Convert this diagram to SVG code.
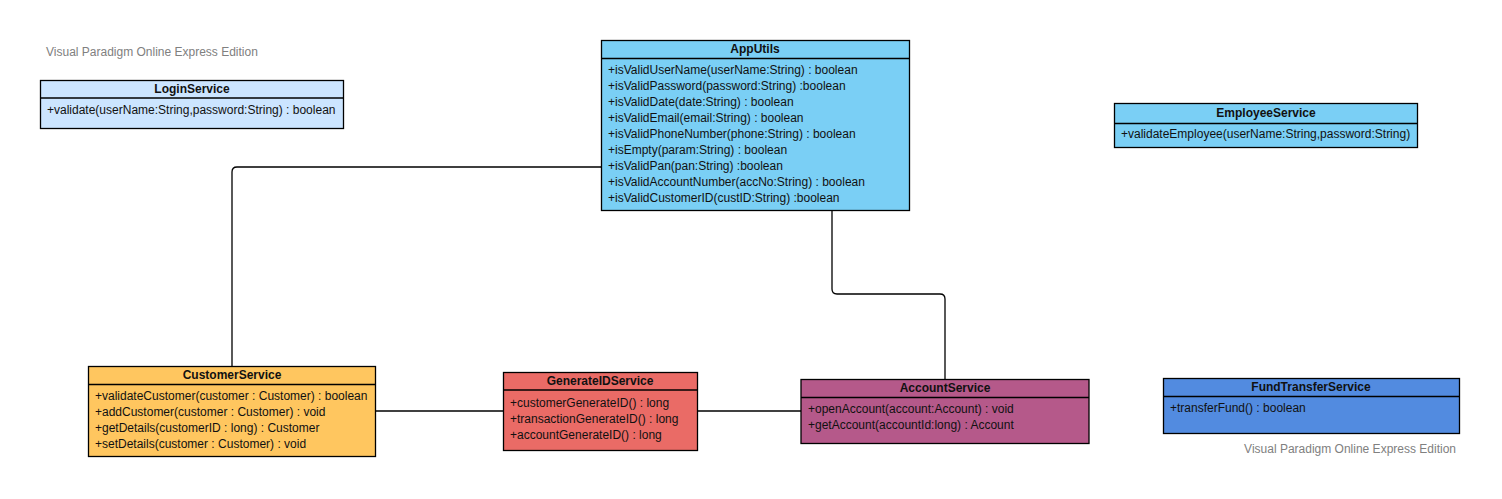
<svg xmlns="http://www.w3.org/2000/svg" width="1502" height="499" viewBox="0 0 1502 499">
<style>
.box{stroke:#000;stroke-width:1.3}
.ttl{font-family:"Liberation Sans",Arial,sans-serif;font-size:12px;font-weight:bold;fill:#111;text-anchor:middle}
.m{font-family:"Liberation Sans",Arial,sans-serif;font-size:12px;fill:#111}
.wm{font-family:"Liberation Sans",Arial,sans-serif;font-size:12px;fill:#808080}
.c{fill:none;stroke:#000;stroke-width:1.3}
</style>
<rect width="1502" height="499" fill="#fff"/>
<text class="wm" x="46" y="56">Visual Paradigm Online Express Edition</text>
<text class="wm" x="1456" y="453" text-anchor="end">Visual Paradigm Online Express Edition</text>
<g id="connectors">
<path class="c" d="M601,167 H237 Q232,167 232,172 V366"/>
<path class="c" d="M375,411 H503"/>
<path class="c" d="M697,411 H801"/>
<path class="c" d="M832,210 V289 Q832,294 837,294 H940 Q945,294 945,299 V379"/>
</g>
<g id="LoginService">
<rect class="box" x="40.5" y="80.5" width="303" height="48" fill="#cce5ff"/>
<line class="box" x1="40.5" y1="98" x2="343.5" y2="98"/>
<text class="ttl" x="192" y="93">LoginService</text>
<text class="m" x="47" y="114">+validate(userName:String,password:String) : boolean</text>
</g>
<g id="AppUtils">
<rect class="box" x="601.5" y="40.5" width="308" height="170" fill="#7acff5"/>
<line class="box" x1="601.5" y1="58.5" x2="909.5" y2="58.5"/>
<text class="ttl" x="755" y="53">AppUtils</text>
<text class="m" x="608" y="74">+isValidUserName(userName:String) : boolean</text>
<text class="m" x="608" y="90">+isValidPassword(password:String) :boolean</text>
<text class="m" x="608" y="106">+isValidDate(date:String) : boolean</text>
<text class="m" x="608" y="122">+isValidEmail(email:String) : boolean</text>
<text class="m" x="608" y="138">+isValidPhoneNumber(phone:String) : boolean</text>
<text class="m" x="608" y="154">+isEmpty(param:String) : boolean</text>
<text class="m" x="608" y="170">+isValidPan(pan:String) :boolean</text>
<text class="m" x="608" y="186">+isValidAccountNumber(accNo:String) : boolean</text>
<text class="m" x="608" y="202">+isValidCustomerID(custID:String) :boolean</text>
</g>
<g id="EmployeeService">
<rect class="box" x="1114.5" y="103.5" width="303" height="44" fill="#7acff5"/>
<line class="box" x1="1114.5" y1="123.5" x2="1417.5" y2="123.5"/>
<text class="ttl" x="1266" y="117">EmployeeService</text>
<text class="m" x="1121" y="138">+validateEmployee(userName:String,password:String)</text>
</g>
<g id="CustomerService">
<rect class="box" x="88.5" y="366.5" width="287" height="90" fill="#ffc65f"/>
<line class="box" x1="88.5" y1="384.5" x2="375.5" y2="384.5"/>
<text class="ttl" x="232" y="379">CustomerService</text>
<text class="m" x="95" y="400">+validateCustomer(customer : Customer) : boolean</text>
<text class="m" x="95" y="416">+addCustomer(customer : Customer) : void</text>
<text class="m" x="95" y="432">+getDetails(customerID : long) : Customer</text>
<text class="m" x="95" y="448">+setDetails(customer : Customer) : void</text>
</g>
<g id="GenerateIDService">
<rect class="box" x="503.5" y="372.5" width="194" height="78" fill="#ea6b66"/>
<line class="box" x1="503.5" y1="390" x2="697.5" y2="390"/>
<text class="ttl" x="600" y="385">GenerateIDService</text>
<text class="m" x="510" y="407">+customerGenerateID() : long</text>
<text class="m" x="510" y="423">+transactionGenerateID() : long</text>
<text class="m" x="510" y="439">+accountGenerateID() : long</text>
</g>
<g id="AccountService">
<rect class="box" x="801" y="379.5" width="288" height="64" fill="#b5598a"/>
<line class="box" x1="801" y1="397.5" x2="1089" y2="397.5"/>
<text class="ttl" x="945" y="392">AccountService</text>
<text class="m" x="808" y="413">+openAccount(account:Account) : void</text>
<text class="m" x="808" y="429">+getAccount(accountId:long) : Account</text>
</g>
<g id="FundTransferService">
<rect class="box" x="1163.5" y="378.5" width="296" height="55" fill="#528be0"/>
<line class="box" x1="1163.5" y1="396.5" x2="1459.5" y2="396.5"/>
<text class="ttl" x="1311" y="391">FundTransferService</text>
<text class="m" x="1170" y="412">+transferFund() : boolean</text>
</g>
</svg>
